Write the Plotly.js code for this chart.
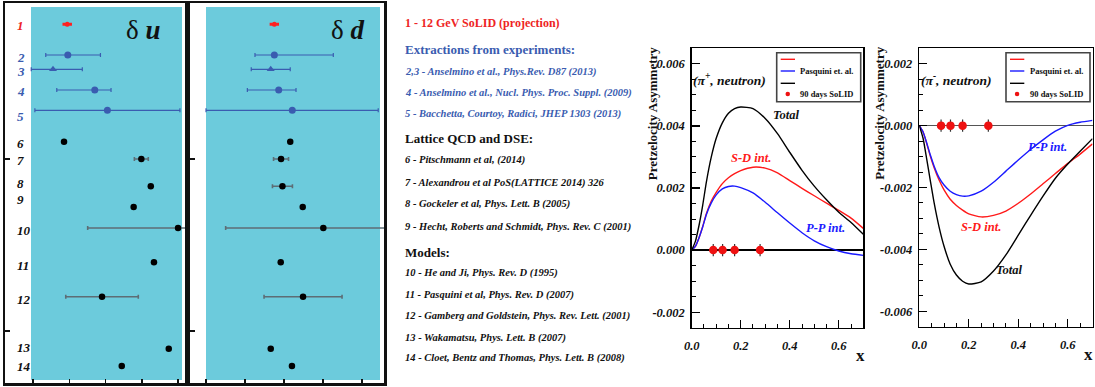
<!DOCTYPE html>
<html><head><meta charset="utf-8">
<script src="https://cdn.plot.ly/plotly-3.0.1.min.js"></script>
<style>html,body{margin:0;padding:0;background:#fff;} #chart{width:1095px;height:387px;}</style>
</head><body><div id="chart"></div>
<script>
// ================= DATA =================
// Left panels: tensor charge compilation (rows 1..14)
const rowLabels = ['1','2','3','4','5','6','7','8','9','10','11','12','13','14'];
const rowGroup  = ['solid','exp','expTri','exp','exp','th','th','th','th','th','th','th','th','th'];
const rowY      = [4.64, 12.87, 16.70, 22.25, 27.69, 36.11, 40.75, 48.07, 53.62, 59.25, 68.45, 77.67, 91.61, 96.25];
const du        = [0.236, 0.240, 0.138, 0.426, 0.513, 0.214, 0.747, 0.812, 0.694, 1.000, 0.834, 0.476, 0.936, 0.612];
const duErrMinus= [0.024, 0.152, 0.150, 0.262, 0.500, 0, 0.048, 0, 0, 0.623, 0, 0.250, 0, 0];
const duErrPlus = [0.024, 0.225, 0.202, 0.112, 0.500, 0, 0.048, 0, 0, 0.623, 0, 0.250, 0, 0];
const dd        = [0.438, 0.438, 0.415, 0.466, 0.553, 0.540, 0.481, 0.490, 0.620, 0.752, 0.479, 0.622, 0.415, 0.551];
const ddErrMinus= [0.022, 0.124, 0.125, 0.201, 0.553, 0, 0.048, 0.064, 0, 0.626, 0, 0.250, 0, 0];
const ddErrPlus = [0.022, 0.378, 0.125, 0.111, 0.551, 0, 0.048, 0.064, 0, 0.626, 0, 0.250, 0, 0];

// Reference list
const refTitle = '1 - 12 GeV SoLID (projection)';
const refHeadExp = 'Extractions from experiments:';
const refExp = ['2,3 - Anselmino et al., Phys.Rev. D87 (2013)',
                '4 - Anselmino et al., Nucl. Phys. Proc. Suppl. (2009)',
                '5 - Bacchetta, Courtoy, Radici, JHEP 1303 (2013)'];
const refHeadLat = 'Lattice QCD and DSE:';
const refLat = ['6 - Pitschmann et al, (2014)',
                '7 - Alexandrou et al PoS(LATTICE 2014) 326',
                '8 - Gockeler et al, Phys. Lett. B (2005)',
                '9 - Hecht, Roberts and Schmidt, Phys. Rev. C (2001)'];
const refHeadMod = 'Models:';
const refMod = ['10 - He and Ji, Phys. Rev. D (1995)',
                '11 - Pasquini et al, Phys. Rev. D (2007)',
                '12 - Gamberg and Goldstein, Phys. Rev. Lett. (2001)',
                '13 - Wakamatsu, Phys. Lett. B (2007)',
                '14 - Cloet, Bentz and Thomas, Phys. Lett. B (2008)'];

// Right panels: pretzelosity asymmetry vs x
const xGrid = [0, 0.015, 0.03, 0.045, 0.06, 0.08, 0.1, 0.125, 0.15, 0.175, 0.2, 0.25, 0.3, 0.35, 0.4, 0.45, 0.5, 0.55, 0.6, 0.65, 0.7];
const pipSD    = [0, 0.00012, 0.00040, 0.00076, 0.00118, 0.00158, 0.00186, 0.00214, 0.00233, 0.00246, 0.00256, 0.00267, 0.00264, 0.00249, 0.00224, 0.00199, 0.00175, 0.00151, 0.00128, 0.00103, 0.00070];
const pipPP    = [0, 0.00012, 0.00040, 0.00075, 0.00115, 0.00152, 0.00178, 0.00197, 0.00205, 0.00206, 0.00201, 0.00184, 0.00154, 0.00120, 0.00087, 0.00056, 0.00030, 0.00011, -0.00003, -0.00012, -0.00017];
const pipTotal = [0, 0.00028, 0.00080, 0.00145, 0.00220, 0.00300, 0.00360, 0.00410, 0.00441, 0.00456, 0.00461, 0.00456, 0.00424, 0.00375, 0.00315, 0.00257, 0.00206, 0.00162, 0.00122, 0.00089, 0.00051];

const pimSD    = [0, -0.00020, -0.00058, -0.00100, -0.00136, -0.00176, -0.00208, -0.00238, -0.00258, -0.00273, -0.00285, -0.00295, -0.00290, -0.00276, -0.00251, -0.00221, -0.00188, -0.00155, -0.00122, -0.00092, -0.00059];
const pimPP    = [0, -0.00020, -0.00056, -0.00096, -0.00131, -0.00168, -0.00192, -0.00212, -0.00223, -0.00228, -0.00227, -0.00212, -0.00183, -0.00147, -0.00111, -0.00077, -0.00046, -0.00018, 0.00001, 0.00011, 0.00017];
const pimTotal = [0, -0.00040, -0.00108, -0.00180, -0.00250, -0.00328, -0.00390, -0.00448, -0.00483, -0.00503, -0.00512, -0.00505, -0.00470, -0.00418, -0.00354, -0.00290, -0.00228, -0.00170, -0.00124, -0.00083, -0.00042];

const solidX   = [0.088, 0.126, 0.175, 0.279];
const solidY   = [0, 0, 0, 0];
const solidErr = [0.0002, 0.0002, 0.0002, 0.0002];

const xTickVals = [0, 0.2, 0.4, 0.6];
const xTickText = ['0.0', '0.2', '0.4', '0.6'];
const yTickValsP = [-0.002, 0, 0.002, 0.004, 0.006];
const yTickTextP = ['-0.002', '0.000', '0.002', '0.004', '0.006'];
const yTickValsM = [-0.006, -0.004, -0.002, 0, 0.002];
const yTickTextM = ['-0.006', '-0.004', '-0.002', '0.000', '0.002'];
const legendTexts = ['', 'Pasquini et. al.', '', '90 days SoLID'];

// ================= LAYOUT HELPERS =================
const W = 1095, H = 387;
const px = x => x / W;
const py = y => 1 - y / H;
const SERIF = 'Liberation Serif, Times New Roman, serif';
const RED = '#ee2424', BLUE = '#3a5cb0';

const traces = [];
const styles = {
  solid:  {color:'#ff2020', symbol:'circle', size:5, ecolor:'#ff2020', thick:2.5, w:1.5},
  exp:    {color:BLUE, symbol:'circle', size:7, ecolor:BLUE, thick:1.2, w:2},
  expTri: {color:BLUE, symbol:'triangle-up', size:7, ecolor:BLUE, thick:1.2, w:2},
  th:     {color:'#000000', symbol:'circle', size:6.5, ecolor:'#5d6d75', thick:1.6, w:2}
};
function addPanel(vals, em, ep, xa, ya) {
  Object.keys(styles).forEach(g => {
    const idx = rowGroup.map((v, i) => v === g ? i : -1).filter(i => i >= 0);
    const s = styles[g];
    traces.push({type:'scatter', mode:'markers', xaxis:xa, yaxis:ya,
      x: idx.map(i => vals[i]), y: idx.map(i => rowY[i]),
      marker:{color:s.color, symbol:s.symbol, size:s.size, line:{width:0}},
      error_x:{type:'data', symmetric:false, array: idx.map(i => ep[i]), arrayminus: idx.map(i => em[i]),
               color:s.ecolor, thickness:s.thick, width:s.w, visible:true},
      hoverinfo:'skip'});
  });
}
addPanel(du, duErrMinus, duErrPlus, 'x', 'y');
addPanel(dd, ddErrMinus, ddErrPlus, 'x2', 'y2');

function curve(y, color, xa, ya) {
  traces.push({type:'scatter', mode:'lines', x:xGrid, y:y, xaxis:xa, yaxis:ya,
    line:{color:color, width:1.4, shape:'spline', smoothing:0.6}, hoverinfo:'skip'});
}
curve(pipSD, '#ff1a1a', 'x3', 'y3');
curve(pipPP, '#1a1aff', 'x3', 'y3');
curve(pipTotal, '#000000', 'x3', 'y3');
curve(pimSD, '#ff1a1a', 'x4', 'y4');
curve(pimPP, '#1a1aff', 'x4', 'y4');
curve(pimTotal, '#000000', 'x4', 'y4');
['3','4'].forEach(k => {
  traces.push({type:'scatter', mode:'markers', x:solidX, y:solidY, xaxis:'x'+k, yaxis:'y'+k,
    marker:{color:'#ee1111', size:8.5},
    error_y:{type:'data', array:solidErr, color:'#333333', thickness:1.2, width:0},
    hoverinfo:'skip'});
});

// ---- axes ----
const leftX = (d0, d1, r0, r1, anchor) => ({domain:[px(d0), px(d1)], range:[r0, r1], anchor:anchor,
  showline:true, mirror:true, linecolor:'#111', linewidth:2.5, ticks:'inside', ticklen:4, tickwidth:1.5,
  tickcolor:'#111', tickvals:[0, 0.25, 0.5, 0.75, 1], showticklabels:false, showgrid:false, zeroline:false, fixedrange:true});
const leftY = (anchor) => ({domain:[py(383), py(3)], range:[100.8, -1.07], anchor:anchor,
  showline:true, mirror:true, linecolor:'#111', linewidth:2.5, ticks:'inside', ticklen:5, tickwidth:2,
  tickcolor:'#111', tickvals:[40.75, 86.86], showticklabels:false, showgrid:false, zeroline:false, fixedrange:true});
const tickFont = {family:SERIF, size:12.5, color:'#111', weight:'bold', style:'italic'};
const rightX = (d0, d1, anchor) => ({domain:[px(d0), px(d1)], range:[0, 0.7], anchor:anchor,
  showline:true, mirror:true, linecolor:'#000', linewidth:1.5, ticks:'inside', ticklen:8, tickwidth:1.2,
  tickcolor:'#000', tickvals:xTickVals, ticktext:xTickText, tickfont:tickFont, ticklabelstandoff:6,
  minor:{dtick:0.05, tick0:0, ticks:'inside', ticklen:4, tickwidth:1, tickcolor:'#000', showgrid:false},
  showgrid:false, zeroline:false, fixedrange:true});
const rightY = (top, bot, r, tv, tt, anchor, zc, zw) => ({domain:[py(bot), py(top)], range:r, anchor:anchor,
  showline:true, mirror:true, linecolor:'#000', linewidth:1.5, ticks:'inside', ticklen:8, tickwidth:1.2,
  tickcolor:'#000', tickvals:tv, ticktext:tt, tickfont:tickFont, ticklabelstandoff:3,
  minor:{dtick:0.0005, tick0:0, ticks:'inside', ticklen:4, tickwidth:1, tickcolor:'#000', showgrid:false},
  showgrid:false, zeroline:true, zerolinecolor:zc, zerolinewidth:zw, fixedrange:true});

// ---- shapes ----
const shapes = [
  {type:'rect', xref:'paper', yref:'paper', x0:px(31), x1:px(182), y0:py(380), y1:py(7), fillcolor:'#6ccbdc', line:{width:0}, layer:'below'},
  {type:'rect', xref:'paper', yref:'paper', x0:px(206), x1:px(380), y0:py(380), y1:py(7), fillcolor:'#6ccbdc', line:{width:0}, layer:'below'}
];
const annotations = [];
function ann(text, x, y, o) {
  annotations.push(Object.assign({text:text, x:px(x), y:py(y), xref:'paper', yref:'paper', showarrow:false,
    xanchor:'center', yanchor:'middle'}, o || {}));
}
function legendFor(ox) {
  shapes.push({type:'rect', xref:'paper', yref:'paper', x0:px(776.7+ox), x1:px(860.7+ox), y0:py(101.7), y1:py(52.7),
    line:{color:'#444', width:1.6}, fillcolor:'#ffffff'});
  const ly = [59.3, 71, 83.3];
  const lc = ['#ff1a1a', '#1a1aff', '#000000'];
  ly.forEach((y, i) => shapes.push({type:'line', xref:'paper', yref:'paper', x0:px(780.7+ox), x1:px(795+ox),
    y0:py(y), y1:py(y), line:{color:lc[i], width:1.4}}));
  shapes.push({type:'circle', xref:'paper', yref:'paper', x0:px(785.5+ox), x1:px(790+ox), y0:py(96.3), y1:py(91.8),
    fillcolor:'#ee1111', line:{width:0}});
  const ty = [59.3, 71, 83.3, 94];
  legendTexts.forEach((t, i) => { if (t) ann(t, 798.3+ox, ty[i], {xanchor:'left',
    font:{family:SERIF, size:8.5, color:'#111', weight:'bold'}}); });
}
legendFor(0);
legendFor(229.3);

// Left panel row labels
const labelY = [5.0, 13.6, 17.35, 22.7, 29.4, 36.7, 41.2, 47.2, 51.5, 60.0, 69.2, 78.4, 91.3, 96.3];
rowLabels.forEach((t, i) => {
  const c = rowGroup[i] === 'solid' ? RED : (rowGroup[i] === 'th' ? '#111' : BLUE);
  annotations.push({text:'<b><i>' + t + '</i></b>', x:px(14.5), y:labelY[i], xref:'paper', yref:'y',
    xanchor:'left', yanchor:'middle', showarrow:false, font:{family:SERIF, size:13, color:c}});
});
ann('δ <b><i>u</i></b>', 143, 30, {font:{family:SERIF, size:27, color:'#111'}});
ann('δ <b><i>d</i></b>', 347, 30, {font:{family:SERIF, size:27, color:'#111'}});

// Middle reference text
const L = 403;
const headFont = c => ({family:SERIF, size:13, color:c, weight:'bold'});
const itemFont = c => ({family:SERIF, size:10.5, color:c, weight:'bold', style:'italic'});
ann(refTitle, L, 23.3, {xanchor:'left', font:{family:SERIF, size:12, color:RED, weight:'bold'}});
ann(refHeadExp, L, 49.3, {xanchor:'left', font:headFont(BLUE)});
[72, 93, 114].forEach((y, i) => ann(refExp[i], L, y, {xanchor:'left', font:itemFont(BLUE)}));
ann(refHeadLat, L, 138.7, {xanchor:'left', font:headFont('#111')});
[160, 182.7, 204.3, 226.7].forEach((y, i) => ann(refLat[i], L, y, {xanchor:'left', font:itemFont('#111')}));
ann(refHeadMod, L, 252.7, {xanchor:'left', font:headFont('#111')});
[273.3, 294.5, 316, 338, 358.3].forEach((y, i) => ann(refMod[i], L, y, {xanchor:'left', font:itemFont('#111')}));

// Right plot annotations
const biFont = (c, s) => ({family:SERIF, size:s || 12.5, color:c, weight:'bold', style:'italic'});
ann('(π<sup>+</sup>, neutron)', 691, 80, {xanchor:'left', font:biFont('#111', 13.5)});
ann('Total', 785.7, 115, {font:biFont('#111')});
ann('S-D int.', 751, 158.3, {font:biFont('#ff1a1a')});
ann('P-P int.', 825.3, 228.3, {font:biFont('#1a1aff')});
ann('x', 860, 355, {font:{family:SERIF, size:17, color:'#111', weight:'bold'}});
ann('Pretzelocity Asymmetry', 652.7, 113.5, {textangle:-90, font:{family:SERIF, size:13, color:'#111', weight:'bold'}});

ann('(π<sup>-</sup>, neutron)', 919, 80, {xanchor:'left', font:biFont('#111', 13.5)});
ann('Total', 1009, 270, {font:biFont('#111')});
ann('S-D int.', 980.5, 226.7, {font:biFont('#ff1a1a')});
ann('P-P int.', 1047.5, 147.3, {font:biFont('#1a1aff')});
ann('x', 1088.3, 354, {font:{family:SERIF, size:17, color:'#111', weight:'bold'}});
ann('Pretzelocity Asymmetry', 879.3, 113.5, {textangle:-90, font:{family:SERIF, size:13, color:'#111', weight:'bold'}});

const layout = {
  width:W, height:H, margin:{l:0, r:0, t:0, b:0, pad:0},
  paper_bgcolor:'#ffffff', plot_bgcolor:'rgba(0,0,0,0)', showlegend:false,
  font:{family:SERIF, color:'#111'},
  xaxis: leftX(5, 185, -0.193, 1.048, 'y'),
  yaxis: leftY('x'),
  xaxis2: leftX(190, 384, -0.1026, 1.141, 'y2'),
  yaxis2: leftY('x2'),
  xaxis3: rightX(691.7, 863.3, 'y3'),
  yaxis3: rightY(48.3, 327.7, [-0.0025, 0.0065], yTickValsP, yTickTextP, 'x3', '#000', 1.2),
  xaxis4: rightX(919.3, 1092.5, 'y4'),
  yaxis4: rightY(48.3, 326.7, [-0.0065, 0.0025], yTickValsM, yTickTextM, 'x4', '#555', 1.6),
  shapes:shapes, annotations:annotations
};
Plotly.newPlot('chart', traces, layout, {staticPlot:true, displayModeBar:false});
</script>
</body></html>
